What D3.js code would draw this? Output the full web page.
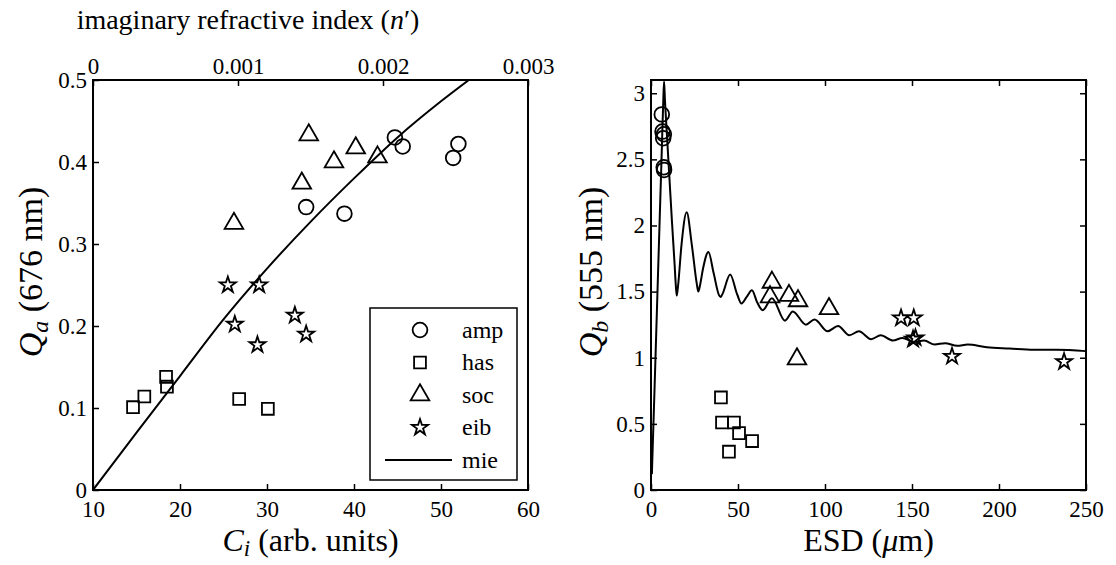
<!DOCTYPE html>
<html>
<head>
<meta charset="utf-8">
<script src="https://cdn.jsdelivr.net/npm/d3@7"></script>
<style>
  body { margin: 0; background: #fff; }
  svg { display: block; }
  .tick line { stroke: #000; stroke-width: 1.5; }
</style>
</head>
<body>
<svg id="chart" width="1116" height="565"></svg>
<script>
// ---- tick values ----
const leftXTicks = [10, 20, 30, 40, 50, 60];
const leftYTicks = [0, 0.1, 0.2, 0.3, 0.4, 0.5];
const topTicks = [0, 0.001, 0.002, 0.003];
const rightXTicks = [0, 50, 100, 150, 200, 250];
const rightYTicks = [0, 0.5, 1, 1.5, 2, 2.5, 3];

// ---- left panel: Ci vs Qa ----
const ampCi = [44.7, 45.6, 52.0, 51.4, 34.5, 38.9];
const ampQa = [0.430, 0.419, 0.422, 0.405, 0.345, 0.337];
const hasCi = [14.6, 15.9, 18.4, 18.5, 26.8, 30.1];
const hasQa = [0.101, 0.114, 0.138, 0.126, 0.111, 0.099];
const socCi = [34.8, 26.2, 34.0, 37.7, 40.2, 42.7];
const socQa = [0.433, 0.325, 0.374, 0.400, 0.417, 0.406];
const eibCi = [25.5, 29.1, 26.3, 28.9, 33.2, 34.5];
const eibQa = [0.250, 0.250, 0.202, 0.177, 0.213, 0.190];
const mieCi = [10, 15, 20, 25, 30, 35, 40, 45, 50, 53.2];
const mieQa = [0, 0.07, 0.139, 0.208, 0.27, 0.327, 0.38, 0.43, 0.474, 0.5];

// ---- right panel: ESD vs Qb ----
const ampEsd = [6.2, 6.6, 7.4, 7.0, 7.3, 7.5];
const ampQb = [2.84, 2.71, 2.69, 2.66, 2.44, 2.42];
const hasEsd = [40.2, 40.8, 47.7, 50.6, 58.1, 44.8];
const hasQb = [0.70, 0.51, 0.51, 0.43, 0.37, 0.29];
const socEsd = [69.5, 68.4, 79.3, 84.5, 102.3, 83.9];
const socQb = [1.57, 1.46, 1.47, 1.43, 1.37, 0.99];
const eibEsd = [143.7, 151.0, 150.6, 152.0, 173.0, 237.4];
const eibQb = [1.30, 1.30, 1.14, 1.15, 1.01, 0.97];
const mieEsd = [0.5, 2, 4, 6, 7, 7.5, 8, 9, 10.5, 12, 13.5, 14.3, 14.8, 15.6, 17.5, 20.5,
  23.5, 26.3, 27.2, 28.2, 30, 33, 36, 39.2, 40, 41, 45.5, 49.5, 52, 55, 58, 61, 64.2,
  69.5, 77, 81.5, 89, 94, 101.5, 107.5, 114, 119.5, 126.5, 132, 139, 144.5, 151, 157,
  163, 169, 176, 182, 193, 206, 220, 233, 250];
const mieQb = [0.12, 0.75, 1.62, 2.48, 2.92, 3.09, 2.95, 2.72, 2.38, 2.04, 1.72, 1.54, 1.47, 1.55, 1.85, 2.10,
  1.85, 1.56, 1.50, 1.55, 1.68, 1.80, 1.64, 1.47, 1.46, 1.48, 1.63, 1.48, 1.41, 1.46, 1.51, 1.42, 1.36,
  1.45, 1.28, 1.35, 1.25, 1.29, 1.20, 1.24, 1.17, 1.20, 1.14, 1.17, 1.13, 1.15, 1.12, 1.13,
  1.10, 1.11, 1.09, 1.10, 1.08, 1.07, 1.06, 1.06, 1.05];

const legendNames = ["amp", "has", "soc", "eib", "mie"];

const serif = "Liberation Serif";

const svg = d3.select("#chart")
  .attr("font-family", serif);

// marker shapes (MATLAB style o, s, ^, p)
const markers = {
  amp: d3.symbol().type(d3.symbolCircle).size(170),
  has: d3.symbol().type(d3.symbolSquare).size(140),
  soc: d3.symbol().type(d3.symbolTriangle).size(150),
  eib: d3.symbol().type(d3.symbolStar).size(80)
};

function zip(xs, ys) { return xs.map((x, i) => [x, ys[i]]); }

function drawMarkers(g, x, y, pts, name) {
  g.selectAll("path." + name)
    .data(pts)
    .enter()
    .append("path")
    .attr("class", name)
    .attr("d", markers[name])
    .attr("transform", d => `translate(${x(d[0])},${y(d[1])})`)
    .attr("fill", "none")
    .attr("stroke", "#000")
    .attr("stroke-width", 1.8);
}

// drop the d3 domain line and its sans-serif defaults
function styleAxis(g) {
  g.select(".domain").remove();
  g.attr("font-family", serif).attr("font-size", 23);
  g.selectAll("text")
    .attr("font-family", serif)
    .attr("font-size", 23)
    .attr("fill", "#000");
}

// ================= left panel =================
const L = { x0: 93, x1: 528, y0: 80, y1: 490 };
const xL = d3.scaleLinear().domain([10, 60]).range([L.x0, L.x1]);
const yL = d3.scaleLinear().domain([0, 0.5]).range([L.y1, L.y0]);
const xTop = d3.scaleLinear().domain([0, 0.003]).range([L.x0, L.x1]);

svg.append("g")
  .attr("transform", `translate(0,${L.y1})`)
  .call(d3.axisBottom(xL).tickValues(leftXTicks).tickSizeInner(-6).tickSizeOuter(0).tickPadding(11).tickFormat(d => d))
  .call(styleAxis);
svg.append("g")
  .attr("transform", `translate(${L.x0},0)`)
  .call(d3.axisLeft(yL).tickValues(leftYTicks).tickSizeInner(-6).tickSizeOuter(0).tickPadding(6).tickFormat(d => String(d)))
  .call(styleAxis);
svg.append("g")
  .attr("transform", `translate(0,${L.y0})`)
  .call(d3.axisTop(xTop).tickValues(topTicks).tickSizeInner(-6).tickSizeOuter(0).tickPadding(6).tickFormat(d => String(d)))
  .call(styleAxis);

svg.append("clipPath").attr("id", "clipL")
  .append("rect").attr("x", L.x0).attr("y", L.y0).attr("width", L.x1 - L.x0).attr("height", L.y1 - L.y0);

const gL = svg.append("g");
gL.append("path")
  .datum(zip(mieCi, mieQa))
  .attr("clip-path", "url(#clipL)")
  .attr("fill", "none")
  .attr("stroke", "#000")
  .attr("stroke-width", 2)
  .attr("d", d3.line().x(d => xL(d[0])).y(d => yL(d[1])).curve(d3.curveMonotoneX));

drawMarkers(gL, xL, yL, zip(ampCi, ampQa), "amp");
drawMarkers(gL, xL, yL, zip(hasCi, hasQa), "has");
drawMarkers(gL, xL, yL, zip(socCi, socQa), "soc");
drawMarkers(gL, xL, yL, zip(eibCi, eibQa), "eib");

svg.append("rect")
  .attr("x", L.x0).attr("y", L.y0)
  .attr("width", L.x1 - L.x0).attr("height", L.y1 - L.y0)
  .attr("fill", "none").attr("stroke", "#000").attr("stroke-width", 2);

// legend
const leg = svg.append("g");
leg.append("rect")
  .attr("x", 370).attr("y", 308).attr("width", 147).attr("height", 172)
  .attr("fill", "#fff").attr("stroke", "#000").attr("stroke-width", 1.5);
legendNames.forEach((name, i) => {
  const cy = 330 + i * 32.5;
  if (name === "mie") {
    leg.append("line")
      .attr("x1", 385).attr("x2", 452).attr("y1", cy).attr("y2", cy)
      .attr("stroke", "#000").attr("stroke-width", 2);
  } else {
    leg.append("path")
      .attr("d", markers[name])
      .attr("transform", `translate(420,${cy})`)
      .attr("fill", "none").attr("stroke", "#000").attr("stroke-width", 1.8);
  }
  leg.append("text")
    .attr("x", 462).attr("y", cy).attr("dy", "0.32em")
    .attr("font-size", 24)
    .text(name);
});

// titles
svg.append("text")
  .attr("x", 248).attr("y", 29)
  .attr("text-anchor", "middle").attr("font-size", 28)
  .html('imaginary refractive index (<tspan font-style="italic">n</tspan>′)');

svg.append("text")
  .attr("x", (L.x0 + L.x1) / 2).attr("y", 551)
  .attr("text-anchor", "middle").attr("font-size", 32)
  .html('<tspan font-style="italic">C</tspan><tspan font-style="italic" font-size="23" dy="5">i</tspan><tspan dy="-5"> (arb. units)</tspan>');

svg.append("text")
  .attr("transform", "translate(42,272) rotate(-90)")
  .attr("text-anchor", "middle").attr("font-size", 34)
  .html('<tspan font-style="italic">Q</tspan><tspan font-style="italic" font-size="24" dy="6">a</tspan><tspan dy="-6"> (676 nm)</tspan>');

// ================= right panel =================
const R = { x0: 651, x1: 1086, y0: 80, y1: 490 };
const xR = d3.scaleLinear().domain([0, 250]).range([R.x0, R.x1]);
const yR = d3.scaleLinear().domain([0, 3.1]).range([R.y1, R.y0]);

svg.append("g")
  .attr("transform", `translate(0,${R.y1})`)
  .call(d3.axisBottom(xR).tickValues(rightXTicks).tickSizeInner(-6).tickSizeOuter(0).tickPadding(11).tickFormat(d => d))
  .call(styleAxis);
svg.append("g")
  .attr("transform", `translate(0,${R.y0})`)
  .call(d3.axisTop(xR).tickValues(rightXTicks).tickSizeInner(-6).tickSizeOuter(0).tickFormat(""))
  .call(styleAxis);
svg.append("g")
  .attr("transform", `translate(${R.x0},0)`)
  .call(d3.axisLeft(yR).tickValues(rightYTicks).tickSizeInner(-6).tickSizeOuter(0).tickPadding(6).tickFormat(d => String(d)))
  .call(styleAxis);
svg.append("g")
  .attr("transform", `translate(${R.x1},0)`)
  .call(d3.axisRight(yR).tickValues(rightYTicks).tickSizeInner(-6).tickSizeOuter(0).tickFormat(""))
  .call(styleAxis);

svg.append("clipPath").attr("id", "clipR")
  .append("rect").attr("x", R.x0).attr("y", R.y0).attr("width", R.x1 - R.x0).attr("height", R.y1 - R.y0);

const gR = svg.append("g");
gR.append("path")
  .datum(zip(mieEsd, mieQb))
  .attr("clip-path", "url(#clipR)")
  .attr("fill", "none")
  .attr("stroke", "#000")
  .attr("stroke-width", 2)
  .attr("d", d3.line().x(d => xR(d[0])).y(d => yR(d[1])).curve(d3.curveMonotoneX));

drawMarkers(gR, xR, yR, zip(ampEsd, ampQb), "amp");
drawMarkers(gR, xR, yR, zip(hasEsd, hasQb), "has");
drawMarkers(gR, xR, yR, zip(socEsd, socQb), "soc");
drawMarkers(gR, xR, yR, zip(eibEsd, eibQb), "eib");

svg.append("rect")
  .attr("x", R.x0).attr("y", R.y0)
  .attr("width", R.x1 - R.x0).attr("height", R.y1 - R.y0)
  .attr("fill", "none").attr("stroke", "#000").attr("stroke-width", 2);

svg.append("text")
  .attr("x", (R.x0 + R.x1) / 2).attr("y", 551)
  .attr("text-anchor", "middle").attr("font-size", 32)
  .html('ESD (<tspan font-style="italic">μ</tspan>m)');

svg.append("text")
  .attr("transform", "translate(602,272) rotate(-90)")
  .attr("text-anchor", "middle").attr("font-size", 34)
  .html('<tspan font-style="italic">Q</tspan><tspan font-style="italic" font-size="24" dy="6">b</tspan><tspan dy="-6"> (555 nm)</tspan>');
</script>
</body>
</html>
